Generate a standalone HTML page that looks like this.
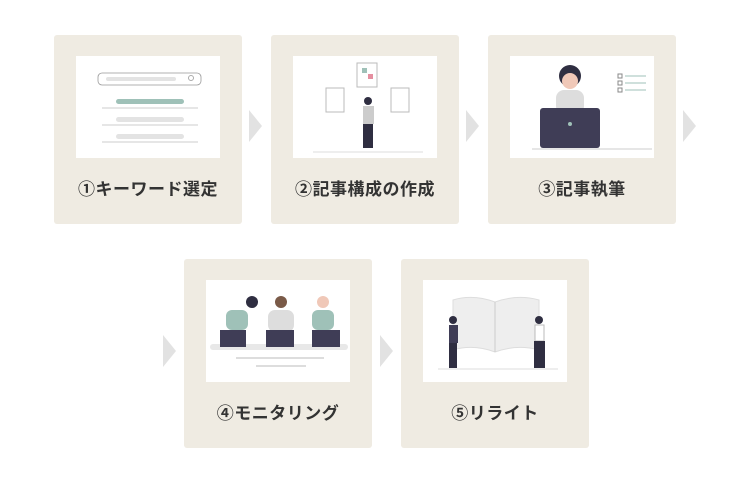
<!DOCTYPE html>
<html><head><meta charset="utf-8"><style>
body{margin:0;width:750px;height:480px;background:#fff;position:relative;overflow:hidden;font-family:"Liberation Sans","Noto Sans CJK JP",sans-serif}
.card{position:absolute;width:188px;height:189px;background:#efebe2;border-radius:3px}
.pan{position:absolute;left:22px;top:21px;width:144px;height:102px;background:#fff}
.lab{position:absolute;left:0;width:100%;top:140px;text-align:center;font-weight:bold;font-size:17px;color:#333;letter-spacing:0.5px}
.arr{position:absolute;width:0;height:0;border-top:16px solid transparent;border-bottom:16px solid transparent;border-left:13px solid #e2e2e2}
svg{position:absolute;left:0;top:0}
</style></head><body>
<div class="card" style="left:54px;top:35px"><div class="pan"><svg width="144" height="102">
<rect x="22" y="17" width="103" height="12" rx="4" fill="none" stroke="#999" stroke-width="0.8"/>
<rect x="30" y="21" width="70" height="4" rx="2" fill="#e3e3e3"/><circle cx="115" cy="22" r="2.5" fill="none" stroke="#aaa"/>
<rect x="40" y="43" width="68" height="5" rx="2.5" fill="#9fc1b8"/><line x1="26" y1="52" x2="122" y2="52" stroke="#ccc"/>
<rect x="40" y="61" width="68" height="5" rx="2.5" fill="#e3e3e3"/><line x1="26" y1="69" x2="122" y2="69" stroke="#ccc"/>
<rect x="40" y="78" width="68" height="5" rx="2.5" fill="#e3e3e3"/><line x1="26" y1="86" x2="122" y2="86" stroke="#ccc"/>
</svg></div><div class="lab">①キーワード選定</div></div>
<div class="arr" style="left:249px;top:110px"></div>
<div class="card" style="left:271px;top:35px"><div class="pan"><svg width="144" height="102">
<rect x="64" y="7" width="20" height="24" fill="#fff" stroke="#bbb"/><rect x="69" y="12" width="5" height="5" fill="#9fc1b8"/><rect x="75" y="18" width="5" height="5" fill="#e58fa0"/>
<rect x="33" y="32" width="18" height="24" fill="#fff" stroke="#bbb"/><rect x="98" y="32" width="18" height="24" fill="#fff" stroke="#bbb"/>
<circle cx="75" cy="45" r="4" fill="#2f2e41"/><rect x="70" y="50" width="11" height="18" fill="#ccc"/><rect x="70" y="68" width="10" height="24" fill="#2f2e41"/>
<line x1="20" y1="96" x2="130" y2="96" stroke="#ddd"/></svg></div><div class="lab">②記事構成の作成</div></div>
<div class="arr" style="left:466px;top:110px"></div>
<div class="card" style="left:488px;top:35px"><div class="pan"><svg width="144" height="102">
<circle cx="60" cy="20" r="11" fill="#2f2e41"/><circle cx="60" cy="25" r="8" fill="#f0c8b8"/><rect x="46" y="34" width="28" height="24" rx="8" fill="#ddd"/>
<rect x="30" y="52" width="60" height="40" rx="3" fill="#3f3d56"/><circle cx="60" cy="68" r="2" fill="#9fc1b8"/>
<line x1="22" y1="93" x2="142" y2="93" stroke="#ccc"/>
<rect x="108" y="18" width="4" height="4" fill="none" stroke="#888"/><line x1="115" y1="20" x2="136" y2="20" stroke="#9fc1b8"/>
<rect x="108" y="25" width="4" height="4" fill="none" stroke="#888"/><line x1="115" y1="27" x2="136" y2="27" stroke="#9fc1b8"/>
<rect x="108" y="32" width="4" height="4" fill="none" stroke="#888"/><line x1="115" y1="34" x2="136" y2="34" stroke="#9fc1b8"/>
</svg></div><div class="lab">③記事執筆</div></div>
<div class="arr" style="left:683px;top:110px"></div>
<div class="arr" style="left:163px;top:335px"></div>
<div class="card" style="left:184px;top:259px"><div class="pan"><svg width="144" height="102">
<rect x="4" y="64" width="138" height="6" rx="3" fill="#e8e8e8"/>
<circle cx="46" cy="22" r="6" fill="#2f2e41"/><rect x="20" y="30" width="22" height="20" rx="6" fill="#9fc1b8"/><rect x="14" y="50" width="26" height="17" fill="#3f3d56"/>
<circle cx="75" cy="22" r="6" fill="#7a5a48"/><rect x="62" y="30" width="26" height="22" rx="7" fill="#ddd"/><rect x="60" y="50" width="28" height="17" fill="#3f3d56"/>
<circle cx="117" cy="22" r="6" fill="#f0c8b8"/><rect x="106" y="30" width="22" height="20" rx="6" fill="#9fc1b8"/><rect x="106" y="50" width="28" height="17" fill="#3f3d56"/>
<line x1="30" y1="78" x2="118" y2="78" stroke="#ddd" stroke-width="2"/><line x1="50" y1="86" x2="100" y2="86" stroke="#ddd" stroke-width="2"/>
</svg></div><div class="lab">④モニタリング</div></div>
<div class="arr" style="left:380px;top:335px"></div>
<div class="card" style="left:401px;top:259px"><div class="pan"><svg width="144" height="102">
<path d="M30 20 Q50 14 72 22 Q94 14 116 20 L116 70 Q94 64 72 72 Q50 64 30 70Z" fill="#eee" stroke="#ddd"/><line x1="72" y1="22" x2="72" y2="72" stroke="#ccc"/>
<circle cx="30" cy="40" r="4" fill="#2f2e41"/><rect x="26" y="45" width="9" height="18" fill="#3f3d56"/><rect x="26" y="63" width="8" height="25" fill="#2f2e41"/>
<circle cx="116" cy="40" r="4" fill="#2f2e41"/><rect x="112" y="45" width="9" height="16" fill="#fff" stroke="#bbb"/><rect x="111" y="61" width="11" height="27" fill="#2f2e41"/>
<line x1="15" y1="89" x2="135" y2="89" stroke="#ddd"/></svg></div><div class="lab">⑤リライト</div></div>
</body></html>
